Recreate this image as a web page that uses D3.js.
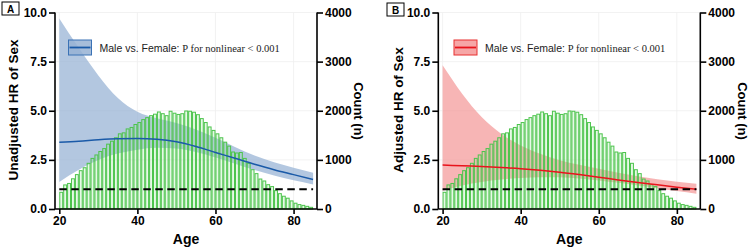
<!DOCTYPE html>
<html><head><meta charset="utf-8">
<script src="https://cdn.jsdelivr.net/npm/d3@7"></script>
<style>body{margin:0;background:#fff}svg{display:block}</style>
</head><body>
<svg id="chart" width="751" height="247"></svg>
<script>
// ---- data ----
const ages = d3.range(20, 85); // histogram bins (1 year)
const counts = [340,490,520,615,700,780,840,930,1030,1100,1170,1230,1320,1380,1450,1530,1550,1630,1660,1720,
  1760,1820,1860,1900,1930,1975,1940,1900,1990,1950,1925,1940,1995,1990,1970,1920,1840,1760,1670,1600,
  1530,1450,1360,1280,1160,1140,1150,1030,930,800,720,610,570,495,456,374,312,260,220,165,118,90,74,54,34];
const curveAges = [20,25,30,35,40,45,50,55,60,65,70,75,80,85];
const hrA    = [3.40,3.45,3.53,3.58,3.59,3.55,3.42,3.18,2.88,2.58,2.28,2.00,1.75,1.50];
const upperA = [9.70,8.20,6.80,5.65,4.95,4.62,4.38,4.05,3.62,3.15,2.72,2.38,2.10,1.84];
const lowerA = [1.38,2.00,2.50,2.82,3.02,3.12,3.08,2.90,2.62,2.30,1.98,1.70,1.46,1.25];
const hrB    = [2.24,2.20,2.16,2.11,2.05,1.97,1.87,1.75,1.62,1.48,1.35,1.23,1.11,1.00];
const upperB = [7.31,5.87,4.68,3.83,3.23,2.81,2.48,2.25,2.05,1.85,1.67,1.52,1.39,1.28];
const lowerB = [0.93,1.20,1.38,1.50,1.58,1.62,1.61,1.55,1.45,1.33,1.20,1.06,0.92,0.78];
const xTicks = [20,40,60,80];
const hrTicks = [0,2.5,5,7.5,10];
const countTicks = [0,1000,2000,3000,4000];
const legendLabel = "Male vs. Female: ";
const legendP = "P for nonlinear < 0.001";

const svg = d3.select("#chart");
const sans = "'Liberation Sans', Arial, sans-serif";
const serif = "'Liberation Serif', 'Times New Roman', serif";

function panel(opt){
  const g = svg.append("g").attr("transform", `translate(${opt.left},0)`);
  const W = 262, top = 12.5, bottom = 209;
  const x = d3.scaleLinear().domain([18.9, 86.0]).range([0, W]);
  const y = d3.scaleLinear().domain([0, 10]).range([bottom, top]);
  const yc = d3.scaleLinear().domain([0, 4000]).range([bottom, top]);

  // grid
  g.append("g").selectAll("line.gx").data(xTicks).join("line")
    .attr("x1", d=>x(d)).attr("x2", d=>x(d)).attr("y1", top).attr("y2", bottom)
    .attr("stroke", "#efefef").attr("stroke-width", 0.8);
  g.append("g").selectAll("line.gy").data(hrTicks).join("line")
    .attr("x1", 0).attr("x2", W).attr("y1", d=>y(d)).attr("y2", d=>y(d))
    .attr("stroke", "#efefef").attr("stroke-width", 0.8);

  const pts = curveAges.map((a,i)=>({a, hr:opt.hr[i], lo:opt.lo[i], up:opt.up[i]}));
  // band
  g.append("path").datum(pts)
    .attr("d", d3.area().x(d=>x(d.a)).y0(d=>y(d.lo)).y1(d=>y(d.up)).curve(d3.curveMonotoneX))
    .attr("fill", opt.band).attr("stroke", "none");

  // histogram
  g.append("g").selectAll("rect").data(ages.map((a,i)=>({a, c:counts[i]}))).join("rect")
    .attr("x", d=>x(d.a)+0.5).attr("width", d=>x(d.a+1)-x(d.a)-1)
    .attr("y", d=>yc(d.c)).attr("height", d=>bottom-yc(d.c))
    .attr("fill", "rgba(160,230,160,0.25)").attr("stroke", "#4cc44c").attr("stroke-width", 1);

  // line
  g.append("path").datum(pts)
    .attr("d", d3.line().x(d=>x(d.a)).y(d=>y(d.hr)).curve(d3.curveMonotoneX))
    .attr("fill", "none").attr("stroke", opt.line).attr("stroke-width", 1.5);

  // reference dashed line HR=1
  g.append("line").attr("x1", x(20)).attr("x2", x(85)).attr("y1", y(1)).attr("y2", y(1))
    .attr("stroke", "#000").attr("stroke-width", 2).attr("stroke-dasharray", "7.5,4.5");

  // axes
  const fmt = d3.format(".1f");
  const ax = g.append("g").attr("transform", `translate(0,${bottom})`)
    .call(d3.axisBottom(x).tickValues(xTicks).tickSize(5).tickPadding(2).tickFormat(d3.format("d")));
  const ay = g.append("g").call(d3.axisLeft(y).tickValues(hrTicks).tickSize(6).tickPadding(2).tickFormat(fmt));
  const ar = g.append("g").attr("transform", `translate(${W},0)`)
    .call(d3.axisRight(yc).tickValues(countTicks).tickSize(6).tickPadding(2).tickFormat(d3.format("d")));
  [ax, ay, ar].forEach(a=>{
    a.select(".domain").attr("stroke", "#000").attr("stroke-width", 1.6);
    a.selectAll(".tick line").attr("stroke", "#000").attr("stroke-width", 1.6);
    a.selectAll("text").attr("fill", "#000").style("font-family", sans).style("font-weight", "bold").style("font-size", "12px");
  });
  ax.select(".domain").attr("d", `M0,0H${W}`);
  ay.select(".domain").attr("d", `M0,${top}V${bottom}`);
  ar.select(".domain").attr("d", `M0,${top}V${bottom}`);

  // titles
  g.append("text").attr("x", W/2).attr("y", 244).attr("text-anchor", "middle")
    .style("font-family", sans).style("font-weight", "bold").style("font-size", "14px").text("Age");
  g.append("text").attr("transform", `translate(${opt.ltx},110) rotate(-90)`).attr("text-anchor", "middle")
    .attr("dy", "0.35em")
    .style("font-family", sans).style("font-weight", "bold").style("font-size", "13.5px").text(opt.ytitle);
  g.append("text").attr("transform", `translate(${opt.rtx},111) rotate(90)`).attr("text-anchor", "middle")
    .attr("dy", "0.35em")
    .style("font-family", sans).style("font-weight", "bold").style("font-size", "13px").text("Count (n)");

  // legend
  const lg = g.append("g").attr("transform", `translate(${opt.legX},0)`);
  lg.append("rect").attr("x", 0).attr("y", 40).attr("width", 23).attr("height", 15)
    .attr("fill", opt.legFill).attr("stroke", opt.legStroke).attr("stroke-width", 1);
  lg.append("line").attr("x1", 1).attr("x2", 22).attr("y1", 47.5).attr("y2", 47.5)
    .attr("stroke", opt.line).attr("stroke-width", 1.8);
  const t = lg.append("text").attr("x", 31).attr("y", 51.5).attr("fill", "#222");
  t.append("tspan").style("font-family", sans).style("font-size", "10.5px").text(legendLabel);
  t.append("tspan").style("font-family", serif).style("font-size", "10.5px").text(legendP);

  // panel tag
  g.append("rect").attr("x", opt.tagX).attr("y", opt.tagY).attr("width", 17).attr("height", 13)
    .attr("fill", "#fff").attr("stroke", "#000").attr("stroke-width", 1);
  g.append("text").attr("x", opt.tagX+8.5).attr("y", opt.tagY+10.5).attr("text-anchor", "middle")
    .style("font-family", sans).style("font-weight", "bold").style("font-size", "10px").text(opt.tag);
}

panel({left:55, hr:hrA, lo:lowerA, up:upperA, band:"rgba(150,178,212,0.72)", line:"#1a5aa8",
  legFill:"rgba(150,178,212,0.85)", legStroke:"#3a72b5", legX:13.5, ytitle:"Unadjusted HR of Sex",
  ltx:-42, rtx:304, tag:"A", tagX:-53, tagY:2});
panel({left:438.3, hr:hrB, lo:lowerB, up:upperB, band:"rgba(244,150,150,0.7)", line:"#e8141c",
  legFill:"rgba(244,150,150,0.85)", legStroke:"#e83030", legX:15.7, ytitle:"Adjusted HR of Sex",
  ltx:-40, rtx:304.5, tag:"B", tagX:-51.3, tagY:3});
</script>
</body></html>
